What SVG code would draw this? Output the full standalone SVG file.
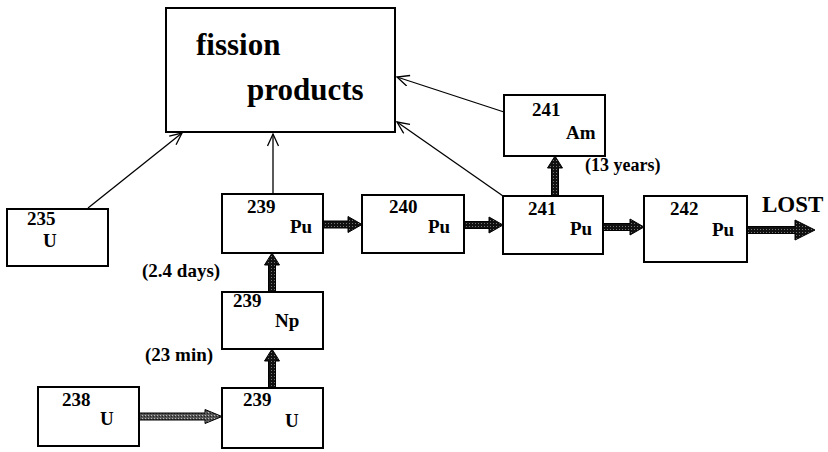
<svg xmlns="http://www.w3.org/2000/svg" width="828" height="452" viewBox="0 0 828 452">
<defs>
<marker id="open" markerUnits="userSpaceOnUse" markerWidth="16" markerHeight="14" refX="13" refY="6" orient="auto">
<path d="M1,0.5 L13,6 L1,11.5" fill="none" stroke="#000" stroke-width="1.3"/>
</marker>
<pattern id="stip" width="3" height="3" patternUnits="userSpaceOnUse">
<rect width="3" height="3" fill="#111"/>
<rect x="1" y="1" width="1" height="1" fill="#777"/>
</pattern>
<pattern id="stip2" width="3" height="3" patternUnits="userSpaceOnUse">
<rect width="3" height="3" fill="#555"/>
<rect x="1" y="1" width="1" height="1" fill="#bbb"/>
<rect x="0" y="2" width="1" height="1" fill="#222"/>
</pattern>
</defs>
<style>
.box{fill:#fff;stroke:#000;stroke-width:2}
text{font-family:'Liberation Serif','DejaVu Serif',serif;font-weight:bold;fill:#000}
.n{font-size:19px}
.big{font-size:31px}
.thin{stroke:#000;stroke-width:1.3;fill:none;marker-end:url(#open)}
.thick{fill:url(#stip);stroke:#000;stroke-width:1}
</style>
<rect width="828" height="452" fill="#fff"/>

<g id="connectors">
<line class="thin" x1="88" y1="208" x2="182" y2="133"/>
<line class="thin" x1="273" y1="194" x2="273" y2="134"/>
<line class="thin" x1="503" y1="196" x2="397" y2="122"/>
<line class="thin" x1="504" y1="112" x2="397" y2="77"/>
<polygon class="thick" points="323,221 348,221 348,216.5 362,224.5 348,232.5 348,228 323,228"/>
<polygon class="thick" points="464,221.5 489,221.5 489,217 503,225 489,233 489,228.5 464,228.5"/>
<polygon class="thick" points="603,223.5 630,223.5 630,219 644,227 630,235 630,230.5 603,230.5"/>
<polygon class="thick" points="747,226.5 795,226.5 795,220 815,230 795,240 795,233.5 747,233.5"/>
<polygon style="fill:url(#stip2);stroke:#000;stroke-width:1" points="139,413 205,413 205,409.5 222,416.5 205,423.5 205,420 139,420"/>
<polygon class="thick" points="268.5,292 268.5,265 264.5,265 272,253 279.5,265 275.5,265 275.5,292"/>
<polygon class="thick" points="268.5,388 268.5,361 264.5,361 272,349 279.5,361 275.5,361 275.5,388"/>
<polygon class="thick" points="551.5,196 551.5,168 547.5,168 555,156 562.5,168 558.5,168 558.5,196"/>
</g>

<g id="fission-products">
<rect class="box" x="166" y="8" width="229" height="124"/>
<text class="big" x="196" y="55">fission</text>
<text class="big" x="247" y="100" font-size="30">products</text>
</g>

<g id="u235">
<rect class="box" x="7" y="209" width="101" height="57"/>
<text class="n" x="27" y="225">235</text>
<text class="n" x="43" y="247">U</text>
</g>

<g id="pu239">
<rect class="box" x="222" y="194" width="101" height="59"/>
<text class="n" x="247" y="213">239</text>
<text class="n" x="290" y="233">Pu</text>
</g>

<g id="pu240">
<rect class="box" x="362" y="195" width="102" height="58"/>
<text class="n" x="389" y="213">240</text>
<text class="n" x="428" y="233">Pu</text>
</g>

<g id="pu241">
<rect class="box" x="503" y="196" width="100" height="58"/>
<text class="n" x="528" y="215">241</text>
<text class="n" x="570" y="235">Pu</text>
</g>

<g id="am241">
<rect class="box" x="504" y="95" width="101" height="61"/>
<text class="n" x="532" y="116">241</text>
<text class="n" x="566" y="139">Am</text>
<text style="font-size:18px" x="585" y="171">(13 years)</text>
</g>

<g id="pu242">
<rect class="box" x="644" y="196" width="103" height="66"/>
<text class="n" x="670" y="215">242</text>
<text class="n" x="712" y="236">Pu</text>
</g>

<g id="lost">
<text style="font-size:23px" x="762" y="212">LOST</text>
</g>

<g id="np239">
<rect class="box" x="222" y="292" width="101" height="57"/>
<text class="n" x="233" y="307">239</text>
<text class="n" x="275" y="327">Np</text>
<text style="font-size:19px" x="142" y="277">(2.4 days)</text>
<text style="font-size:19px" x="145" y="361">(23 min)</text>
</g>

<g id="u239">
<rect class="box" x="222" y="388" width="101" height="60"/>
<text class="n" x="243" y="406">239</text>
<text class="n" x="285" y="427">U</text>
</g>

<g id="u238">
<rect class="box" x="38" y="387" width="101" height="59"/>
<text class="n" x="62" y="406">238</text>
<text class="n" x="100" y="425">U</text>
</g>
</svg>
